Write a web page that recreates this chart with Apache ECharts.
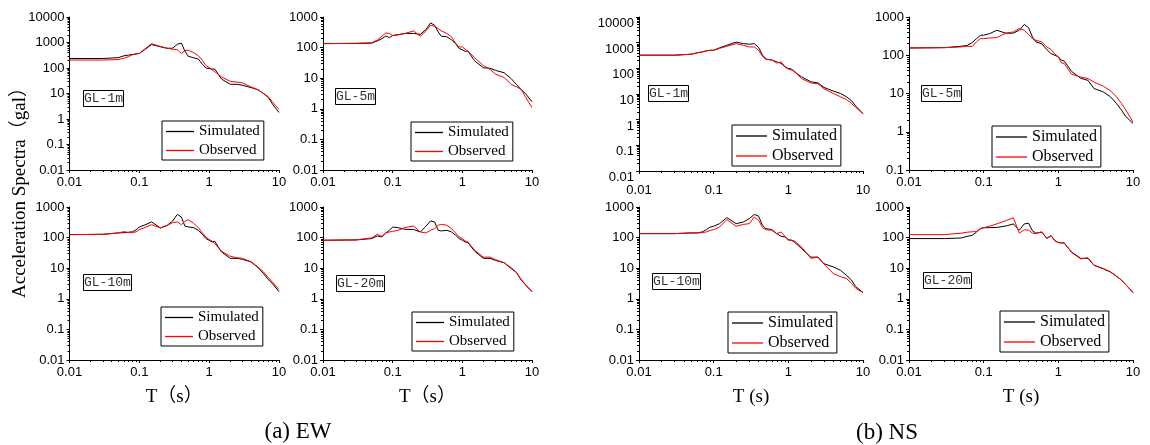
<!DOCTYPE html>
<html>
<head>
<meta charset="utf-8">
<script src="https://cdn.jsdelivr.net/npm/echarts@6.0.0/dist/echarts.min.js"></script>
<style>
  html,body{margin:0;padding:0;background:#fff;}
  #main{width:1150px;height:445px;}
</style>
</head>
<body>
<div id="main"></div>
<script>
// periods (s)
var T = [0.01, 0.03, 0.05, 0.06, 0.07, 0.08, 0.09, 0.1, 0.12, 0.15, 0.2, 0.25, 0.3, 0.35, 0.4, 0.45, 0.5, 0.6, 0.7, 0.8, 0.9, 1, 1.1, 1.2, 1.5, 2, 2.5, 3, 4, 5, 6, 7, 8, 10];

// (a) EW
var ew1Sim = [235,235,255,300,320,340,355,370,530,830,680,590,600,850,950,450,290,250,225,140,100,95,90,92,37,23,23,21,17,14,10,7,4,1.8];
var ew1Obs = [205,205,215,240,280,330,360,375,560,900,700,600,540,520,370,480,500,400,300,200,125,105,85,72,45,30,28,26,18,14,10,7.5,4.8,2.4];
var ew5Sim = [135,137,140,165,196,240,210,250,265,290,290,270,390,640,535,325,235,225,180,135,93,85,75,78,37,22,21,18,15,9.8,6.2,4.2,3.2,1.7];
var ew5Obs = [135,138,145,175,235,300,290,245,260,290,350,235,350,535,500,415,350,290,225,140,105,105,88,76,47,26,19.5,13.5,10.5,6.3,5.2,4.3,2.5,1.1];
var ew10Sim = [125,128,142,145,150,155,180,222,260,325,207,250,350,575,470,235,225,210,174,128,93,82,72,76,34,21,21,19.5,16,10.5,6.7,4.3,3.2,1.7];
var ew10Obs = [125,128,142,157,145,145,155,182,212,265,207,250,308,325,265,340,385,290,212,142,105,86,78,63,36,24.5,22,21,16,11,7.6,5,3.6,2.0];
var ew20Sim = [82,84,93,113,105,142,173,222,210,187,183,153,235,350,325,173,165,173,153,120,93,82,72,69,36,21,21,18,15,9.8,7.2,4.1,2.9,1.7];
var ew20Obs = [82,84,98,128,110,142,153,160,173,213,240,153,142,173,197,253,270,253,197,142,105,93,78,72,39,23,23,19,15,10.5,7.2,4.3,3,1.7];

// (b) NS
var ns1Sim = [325,325,355,400,435,480,505,505,630,790,1050,920,870,920,650,330,230,210,180,155,115,98,95,73,47,30,27,18,13,10.5,7.8,5.5,3.4,1.7];
var ns1Obs = [325,325,355,400,435,480,505,505,600,720,920,790,680,680,505,295,225,215,160,180,115,93,85,80,40,27,25,16,10.5,7.8,6.1,4.3,3.0,1.7];
var ns5Sim = [155,158,172,180,215,270,330,335,367,450,375,380,450,640,520,300,223,200,141,110,100,91,74,71,38,25,22,13.5,11,8.2,5.5,3.7,2.5,1.65];
var ns5Obs = [155,158,165,172,170,223,272,272,283,290,380,407,500,450,350,272,247,223,165,141,106,91,63,61,32,27,24.5,20,15.5,11.8,8.2,5.5,3.7,1.8];
var ns10Sim = [135,135,142,142,153,182,222,235,286,450,286,324,415,575,500,253,197,182,135,110,105,86,82,72,44,23,23,14,11,8.5,5.9,4.1,2.5,1.6];
var ns10Obs = [135,135,142,142,145,153,173,182,222,385,235,270,286,470,370,212,182,173,135,153,110,82,82,78,50,21,23,13.5,6.7,5.3,4.6,3.2,2.2,1.6];
var ns20Sim = [93,93,97,110,118,150,200,210,212,215,240,280,175,280,295,165,140,150,95,115,78,69,67,67,34,21,21,12.5,9.7,7.6,5.5,4.1,2.9,1.6];
var ns20Obs = [125,125,140,150,155,157,190,210,235,280,360,445,140,180,175,140,135,155,95,115,78,69,67,67,33,20,22,12.5,9.5,7.4,5.5,4.1,2.9,1.6];

var labels = ['GL-1m', 'GL-5m', 'GL-10m', 'GL-20m', 'GL-1m', 'GL-5m', 'GL-10m', 'GL-20m'];
var simData = [ew1Sim, ew5Sim, ew10Sim, ew20Sim, ns1Sim, ns5Sim, ns10Sim, ns20Sim];
var obsData = [ew1Obs, ew5Obs, ew10Obs, ew20Obs, ns1Obs, ns5Obs, ns10Obs, ns20Obs];
var yMin = [0.01, 0.01, 0.01, 0.01, 0.01, 0.1, 0.01, 0.01];
var yMax = [10000, 1000, 1000, 1000, 10000, 1000, 1000, 1000];
var xName = ['', '', 'T（s）', 'T（s）', '', '', 'T (s)', 'T (s)'];

// layout of the 8 panels
var boxes = [
  {left: 69.5, top: 17, width: 209.5, height: 153},
  {left: 323, top: 17, width: 209, height: 153},
  {left: 69.5, top: 207, width: 209.5, height: 153},
  {left: 323, top: 207, width: 209, height: 153},
  {left: 639, top: 17, width: 224, height: 154},
  {left: 909, top: 17, width: 224, height: 153},
  {left: 639, top: 207, width: 224, height: 153},
  {left: 909, top: 207, width: 224, height: 153}
];
var legendPos = [[162,121,15,28],[411,122,15,28],[161,307,15,28],[412,312,15,28],[732,125,16,31],[992,126,16,31],[728,312,16,31],[1000,311,16,31]];
var tagPos = [[83,90],[335,88],[83,274],[336,275],[648,85],[921,85],[652,273],[923,272]];

function fmt(v) { return String(+(+v).toPrecision(4)); }

function zip(vals) {
  return T.map(function (t, i) { return [t, vals[i]]; });
}

var grid = [], xAxis = [], yAxis = [], series = [], legend = [], title = [];
for (var i = 0; i < 8; i++) {
  var b = boxes[i];
  grid.push({left: b.left, top: b.top, width: b.width, height: b.height, outerBoundsMode: 'none', containLabel: false});
  xAxis.push({
    type: 'log', logBase: 10, gridIndex: i, min: 0.01, max: 10,
    name: xName[i], nameLocation: 'middle', nameGap: 28,
    nameTextStyle: {fontFamily: 'Liberation Serif, Noto Sans CJK SC', fontSize: 19, color: '#000'},
    axisLine: {lineStyle: {color: '#000', width: 1}},
    axisTick: {show: true, length: 3, lineStyle: {color: '#000'}},
    minorTick: {show: true, splitNumber: 9, length: 2, lineStyle: {color: '#000'}},
    splitLine: {show: false},
    axisLabel: {color: '#000', fontFamily: 'Liberation Sans', fontSize: 13, margin: i == 4 ? 13 : 6, formatter: fmt, showMinLabel: true, showMaxLabel: true}
  });
  yAxis.push({
    type: 'log', logBase: 10, gridIndex: i, min: yMin[i], max: yMax[i],
    axisLine: {show: true, lineStyle: {color: '#000', width: 1}},
    axisTick: {show: true, length: 3, lineStyle: {color: '#000'}},
    minorTick: {show: true, splitNumber: 9, length: 2, lineStyle: {color: '#000'}},
    splitLine: {show: false},
    axisLabel: {color: '#000', fontFamily: 'Liberation Sans', fontSize: 13, margin: 5, formatter: fmt,
      verticalAlign: i == 4 ? 'top' : 'middle', showMinLabel: true, showMaxLabel: true}
  });
  series.push({
    name: 'Simulated', type: 'line', xAxisIndex: i, yAxisIndex: i, symbol: 'none',
    lineStyle: {color: '#000', width: 1}, itemStyle: {color: '#000'}, data: zip(simData[i])
  });
  series.push({
    name: 'Observed', type: 'line', xAxisIndex: i, yAxisIndex: i, symbol: 'none',
    lineStyle: {color: '#ff0000', width: 1}, itemStyle: {color: '#ff0000'}, data: zip(obsData[i])
  });
  var lp = legendPos[i];
  legend.push({
    left: lp[0], top: lp[1], orient: 'vertical',
    data: ['Simulated', 'Observed'],
    icon: 'rect', itemWidth: lp[3], itemHeight: 1.3,
    borderColor: '#000', borderWidth: 1, borderRadius: 0,
    padding: [3, 4, 2, 4], itemGap: 4,
    textStyle: {fontFamily: 'Liberation Serif', fontSize: lp[2], color: '#000'}
  });
  title.push({
    text: labels[i], left: tagPos[i][0], top: tagPos[i][1],
    borderColor: '#000', borderWidth: 1, padding: [2, 1],
    textStyle: {fontFamily: 'Liberation Mono', fontSize: 13, fontWeight: 'normal', color: '#333'}
  });
}

var chart = echarts.init(document.getElementById('main'), null, {renderer: 'canvas'});
chart.setOption({
  backgroundColor: '#fff',
  animation: false,
  title: title,
  legend: legend,
  grid: grid,
  xAxis: xAxis,
  yAxis: yAxis,
  series: series,
  graphic: [
    {type: 'text', x: 20, y: 188, rotation: Math.PI / 2,
      style: {text: 'Acceleration Spectra（gal）', fontFamily: 'Liberation Serif, Noto Sans CJK SC', fontSize: 19, fill: '#000', textAlign: 'center', textVerticalAlign: 'middle'}},
    {type: 'text', x: 298, y: 432,
      style: {text: '(a) EW', fontFamily: 'Liberation Serif', fontSize: 23, fill: '#000', textAlign: 'center', textVerticalAlign: 'middle'}},
    {type: 'text', x: 887, y: 433,
      style: {text: '(b) NS', fontFamily: 'Liberation Serif', fontSize: 23, fill: '#000', textAlign: 'center', textVerticalAlign: 'middle'}}
  ]
});
</script>
</body>
</html>
